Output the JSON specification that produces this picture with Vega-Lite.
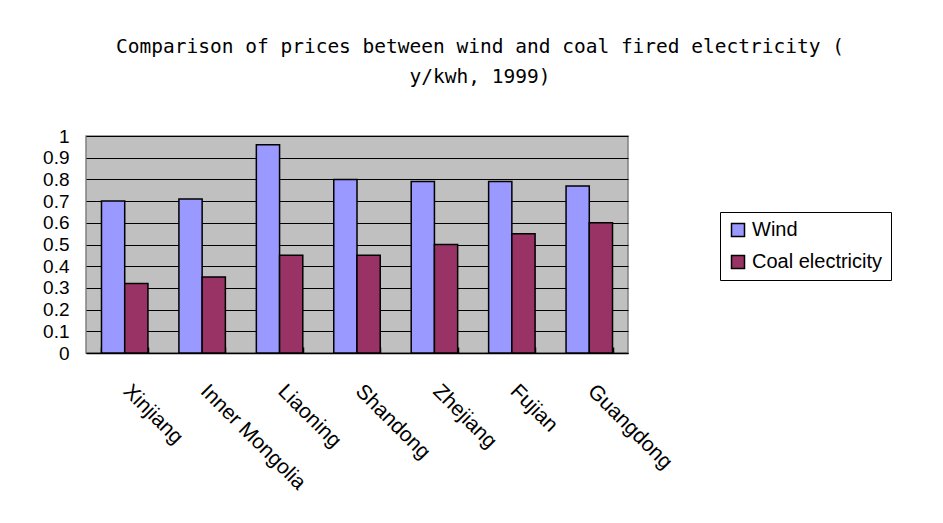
{
  "$schema": "https://vega.github.io/schema/vega-lite/v6.json",
  "autosize": {"type": "none"},
  "width": 542,
  "height": 217,
  "padding": {"left": 86, "top": 136, "right": 315, "bottom": 170},
  "background": "white",
  "title": {
    "text": ["Comparison of prices between wind and coal fired electricity (", "y/kwh, 1999)"],
    "anchor": "middle",
    "frame": "group",
    "dx": 123,
    "offset": 40,
    "font": "DejaVu Sans Mono",
    "fontSize": 19.5,
    "fontWeight": "normal",
    "lineHeight": 30,
    "color": "black"
  },
  "data": {
    "values": [
      {"region": "Xinjiang", "series": "Wind", "price": 0.70},
      {"region": "Xinjiang", "series": "Coal electricity", "price": 0.32},
      {"region": "Inner Mongolia", "series": "Wind", "price": 0.71},
      {"region": "Inner Mongolia", "series": "Coal electricity", "price": 0.35},
      {"region": "Liaoning", "series": "Wind", "price": 0.96},
      {"region": "Liaoning", "series": "Coal electricity", "price": 0.45},
      {"region": "Shandong", "series": "Wind", "price": 0.80},
      {"region": "Shandong", "series": "Coal electricity", "price": 0.45},
      {"region": "Zhejiang", "series": "Wind", "price": 0.79},
      {"region": "Zhejiang", "series": "Coal electricity", "price": 0.50},
      {"region": "Fujian", "series": "Wind", "price": 0.79},
      {"region": "Fujian", "series": "Coal electricity", "price": 0.55},
      {"region": "Guangdong", "series": "Wind", "price": 0.77},
      {"region": "Guangdong", "series": "Coal electricity", "price": 0.60}
    ]
  },
  "mark": {"type": "bar", "stroke": "black", "strokeWidth": 1.5},
  "encoding": {
    "x": {
      "field": "region",
      "type": "nominal",
      "sort": null,
      "scale": {"paddingInner": 0.4, "paddingOuter": 0.2},
      "axis": {
        "title": null,
        "labelAngle": 45,
        "labelAlign": "left",
        "labelBaseline": "top",
        "labelFont": "Liberation Sans",
        "labelFontSize": 21,
        "labelColor": "black",
        "labelPadding": 33,
        "labelOffset": 9,
        "ticks": true,
        "tickBand": "extent",
        "tickSize": -6,
        "tickColor": "black",
        "tickWidth": 1.5,
        "domainColor": "black",
        "domainWidth": 1.5,
        "grid": false
      }
    },
    "xOffset": {
      "field": "series",
      "type": "nominal",
      "sort": ["Wind", "Coal electricity"],
      "scale": {"padding": 0}
    },
    "y": {
      "field": "price",
      "type": "quantitative",
      "scale": {"domain": [0, 1], "nice": false},
      "axis": {
        "title": null,
        "values": [0, 0.1, 0.2, 0.3, 0.4, 0.5, 0.6, 0.7, 0.8, 0.9, 1],
        "format": ".1~f",
        "labelFont": "Liberation Sans",
        "labelFontSize": 19,
        "labelColor": "black",
        "labelPadding": 17,
        "ticks": false,
        "domain": false,
        "grid": true,
        "gridColor": "black",
        "gridWidth": 1,
        "gridOpacity": 1
      }
    },
    "color": {
      "field": "series",
      "type": "nominal",
      "sort": ["Wind", "Coal electricity"],
      "scale": {"domain": ["Wind", "Coal electricity"], "range": ["#9999FF", "#993366"]},
      "legend": {
        "title": null,
        "orient": "none",
        "legendX": 634,
        "legendY": 76,
        "fillColor": "white",
        "strokeColor": "black",
        "padding": 8,
        "symbolType": "square",
        "symbolSize": 169,
        "symbolStrokeColor": "black",
        "symbolStrokeWidth": 1.5,
        "symbolOpacity": 1,
        "labelFont": "Liberation Sans",
        "labelFontSize": 20,
        "labelColor": "black",
        "labelLimit": 400,
        "rowPadding": 12
      }
    }
  },
  "config": {
    "view": {"fill": "#C0C0C0", "stroke": "#808080", "strokeWidth": 1.5},
    "axis": {"gridOpacity": 1}
  }
}
